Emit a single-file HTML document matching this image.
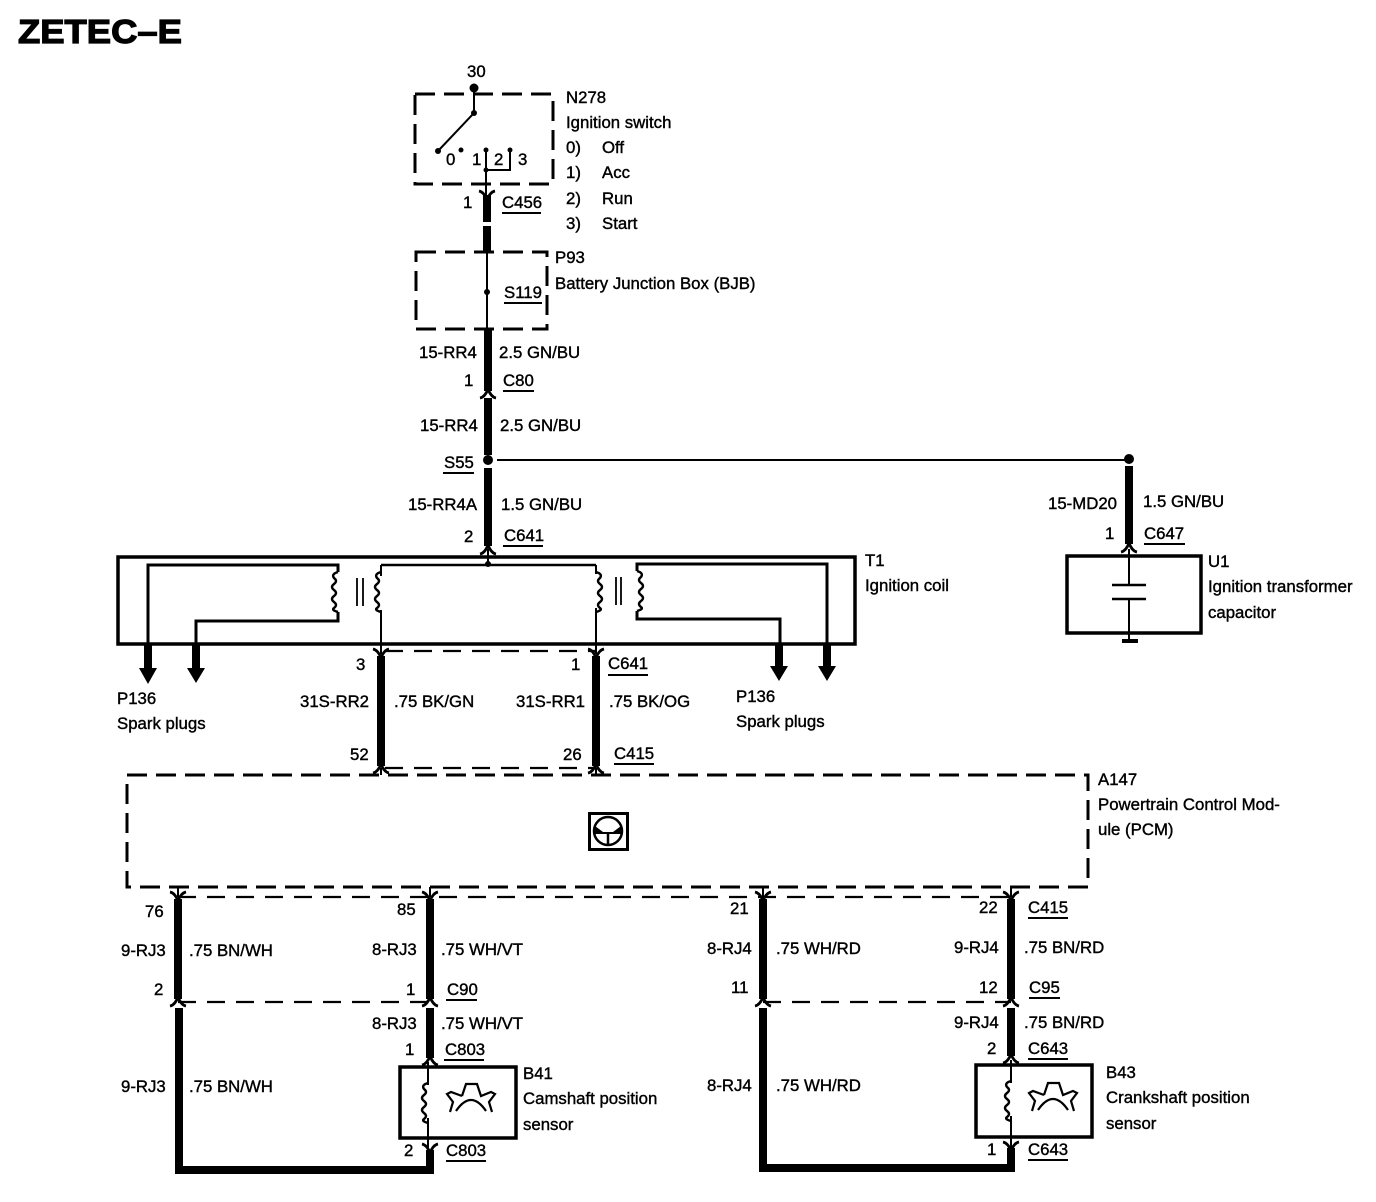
<!DOCTYPE html>
<html><head><meta charset="utf-8"><style>
html,body{margin:0;padding:0;background:#fff}
svg{display:block}
text{font-family:"Liberation Sans",sans-serif;font-size:16.8px;fill:#000;stroke:#000;stroke-width:.4}
.t{stroke:#000;fill:none;stroke-width:2}
.w{stroke:#000;fill:none;stroke-width:8}
.b{stroke:#000;fill:none;stroke-width:3.5}
.d{stroke:#000;fill:none;stroke-width:3;stroke-dasharray:20 9}
.e{stroke:#000;fill:none;stroke-width:2.2;stroke-dasharray:18 11}
</style></head><body>
<svg width="1376" height="1202" viewBox="0 0 1376 1202" xmlns="http://www.w3.org/2000/svg">
<defs>
<path id="y" d="M-8,-6 Q-3,-5 0,3 Q3,-5 8,-6" fill="none" stroke="#000" stroke-width="2.8"/>
<path id="a" d="M-8,5 Q-3,4 0,-4 Q3,4 8,5" fill="none" stroke="#000" stroke-width="2.8"/>
<path id="gear" d="M-9,-3 L-5,-15 H6 L10,-3 L20,-7 L24,-5 L18,3 L21,13 M-9,-3 L-20,-7 L-24,-5 L-18,3 L-21,13 M-15,12 Q0,-10 15,12" fill="none" stroke="#000" stroke-width="2.2"/>
<path id="cl" d="M0,0 q-7,2 -4,6 q4,3 0,6 q-4,3 0,6 q4,3 0,6 q-4,3 0,6 q4,3 0,6 q-3,2 4,4" fill="none" stroke="#000" stroke-width="2.4"/>
<path id="cr" d="M0,0 q7,2 4,6 q-4,3 0,6 q4,3 0,6 q-4,3 0,6 q4,3 0,6 q-4,3 0,6 q3,2 -4,4" fill="none" stroke="#000" stroke-width="2.4"/>
</defs>

<text x="18" y="43" style="font-size:33px;font-weight:bold;stroke-width:1.2" textLength="164" lengthAdjust="spacingAndGlyphs">ZETEC–E</text>

<!-- Ignition switch -->
<rect class="d" x="415" y="94" width="138" height="90"/>
<circle cx="474" cy="88" r="4.5"/>
<path class="t" d="M474,88V113L438,151"/>
<circle cx="474" cy="113" r="3"/><circle cx="438" cy="151" r="3"/><circle cx="461" cy="150" r="2.5"/>
<circle cx="486" cy="150" r="2.5"/><circle cx="510" cy="150" r="2.5"/><circle cx="486" cy="170" r="2.5"/>
<path class="t" d="M486,150V195M486,170H510V150"/>
<text x="446" y="165">0</text><text x="472" y="165">1</text><text x="494" y="165">2</text><text x="518" y="165">3</text>
<text x="467" y="77">30</text>
<text x="566" y="103">N278</text><text x="566" y="128">Ignition switch</text>
<text x="566" y="153">0)</text><text x="602" y="153">Off</text>
<text x="566" y="178">1)</text><text x="602" y="178">Acc</text>
<text x="566" y="204">2)</text><text x="602" y="204">Run</text>
<text x="566" y="229">3)</text><text x="602" y="229">Start</text>
<use href="#y" x="487" y="197"/>
<path class="w" d="M487,195V222M487,226V252"/>
<text x="463" y="208">1</text>
<text x="502" y="208">C456</text><path class="t" d="M502,213H541"/>

<!-- BJB -->
<rect class="d" x="416" y="252" width="131" height="77"/>
<path class="t" d="M487,252V329"/><circle cx="487" cy="292" r="3"/>
<text x="504" y="298">S119</text><path class="t" d="M504,303H542"/>
<text x="555" y="263">P93</text><text x="555" y="289">Battery Junction Box (BJB)</text>

<!-- main feed -->
<path class="w" d="M488,329V391M488,398V455M488,468V546"/>
<use href="#a" x="488" y="393"/>
<text x="419" y="358">15-RR4</text><text x="499" y="358">2.5 GN/BU</text>
<text x="464" y="386">1</text><text x="503" y="386">C80</text><path class="t" d="M503,391H534"/>
<text x="420" y="431">15-RR4</text><text x="500" y="431">2.5 GN/BU</text>
<text x="444" y="468">S55</text><path class="t" d="M443,473H474"/>
<circle cx="488" cy="460" r="5"/>
<path class="t" d="M497,460H1129"/>
<text x="408" y="510">15-RR4A</text><text x="501" y="510">1.5 GN/BU</text>
<text x="464" y="542">2</text><text x="504" y="541">C641</text><path class="t" d="M503,546H543"/>
<use href="#a" x="488" y="549"/>

<!-- capacitor branch -->
<circle cx="1129" cy="459" r="5"/>
<path class="w" d="M1129,466V544"/>
<use href="#a" x="1129" y="547"/>
<text x="1048" y="509">15-MD20</text><text x="1143" y="507">1.5 GN/BU</text>
<text x="1105" y="539">1</text><text x="1144" y="539">C647</text><path class="t" d="M1144,544H1185"/>
<rect class="b" x="1067" y="556" width="134" height="77"/>
<path class="t" d="M1129,549V585M1129,599V640"/>
<path stroke="#000" stroke-width="2.5" d="M1112,585H1146M1112,599H1146"/>
<path stroke="#000" stroke-width="4" d="M1122,641H1138"/>
<text x="1208" y="567">U1</text><text x="1208" y="592">Ignition transformer</text><text x="1208" y="618">capacitor</text>

<!-- Ignition coil -->
<rect class="b" x="118" y="557" width="737" height="87"/>
<path class="t" d="M488,549V565"/><circle cx="488" cy="564" r="3"/>
<path stroke="#000" stroke-width="2.5" fill="none" d="M381,565H596"/>
<path stroke="#000" stroke-width="3" fill="none" d="M148,645V565H338V572M338,612V621H196V645"/>
<use href="#cl" x="338" y="572"/>
<path stroke="#000" stroke-width="1.8" d="M357,578V606M363,578V606M616,577V605M621,577V605"/>
<path class="t" d="M381,565V576M381,610V654"/>
<use href="#cl" x="381" y="572"/>
<path class="t" d="M596,565V574M596,608V654"/>
<use href="#cr" x="596" y="572"/>
<path stroke="#000" stroke-width="3" fill="none" d="M637,571V564H827V645M637,611V619H780V645"/>
<use href="#cr" x="637" y="571"/>
<path class="w" d="M148,645V670M196,645V670M779,645V668M827,645V668"/>
<path d="M139,668H157L148,684ZM187,668H205L196,683ZM770,666H788L779,681ZM818,666H836L827,681Z"/>
<text x="865" y="566">T1</text><text x="865" y="591">Ignition coil</text>
<text x="117" y="704">P136</text><text x="117" y="729">Spark plugs</text>
<text x="736" y="702">P136</text><text x="736" y="727">Spark plugs</text>

<!-- coil outputs -->
<path class="e" d="M385,651H596M385,768H596"/>
<path class="w" d="M381,656V766M596,656V766"/>
<use href="#y" x="381" y="655"/><use href="#y" x="596" y="655"/>
<use href="#a" x="381" y="768"/><use href="#a" x="596" y="768"/>
<path class="t" d="M381,768V775M596,768V775"/>
<text x="356" y="670">3</text><text x="571" y="670">1</text>
<text x="608" y="669">C641</text><path class="t" d="M608,675H648"/>
<text x="300" y="707">31S-RR2</text><text x="394" y="707">.75 BK/GN</text>
<text x="516" y="707">31S-RR1</text><text x="609" y="707">.75 BK/OG</text>
<text x="350" y="760">52</text><text x="563" y="760">26</text>
<text x="614" y="759">C415</text><path class="t" d="M614,764H654"/>

<!-- PCM -->
<rect class="d" x="127" y="775" width="961" height="112"/>
<text x="1098" y="785">A147</text><text x="1098" y="810">Powertrain Control Mod-</text><text x="1098" y="835">ule (PCM)</text>
<rect x="589.500" y="813.500" width="38" height="36" fill="none" stroke="#000" stroke-width="3"/>
<circle cx="608" cy="831" r="14" fill="none" stroke="#000" stroke-width="2.5"/>
<path d="M595,826L603,832H613L621,826L621,834H595Z"/>
<path stroke="#000" stroke-width="2.5" fill="none" d="M608,833V845"/>

<!-- lower -->
<path class="e" d="M178,897H1011"/>
<path class="e" d="M178,1002H430M763,1002H1011"/>
<path class="t" d="M178,887V897M430,887V897M763,887V897M1011,887V897"/>
<path class="w" d="M178,899V999M430,899V999M763,899V999M1011,899V999"/>
<use href="#y" x="178" y="898"/><use href="#y" x="430" y="898"/><use href="#y" x="763" y="898"/><use href="#y" x="1011" y="898"/>
<use href="#a" x="178" y="1001"/><use href="#a" x="430" y="1001"/><use href="#a" x="763" y="1001"/><use href="#a" x="1011" y="1001"/>

<text x="145" y="917">76</text><text x="397" y="915">85</text><text x="730" y="914">21</text><text x="979" y="913">22</text>
<text x="1028" y="913">C415</text><path class="t" d="M1028,918H1068"/>
<text x="121" y="956">9-RJ3</text><text x="189" y="956">.75 BN/WH</text>
<text x="372" y="955">8-RJ3</text><text x="441" y="955">.75 WH/VT</text>
<text x="707" y="954">8-RJ4</text><text x="776" y="954">.75 WH/RD</text>
<text x="954" y="953">9-RJ4</text><text x="1024" y="953">.75 BN/RD</text>
<text x="154" y="995">2</text><text x="406" y="995">1</text><text x="731" y="993">11</text><text x="979" y="993">12</text>
<text x="447" y="995">C90</text><path class="t" d="M446,1000H477"/>
<text x="1029" y="993">C95</text><path class="t" d="M1029,998H1060"/>

<path class="w" d="M179,1008V1170H430V1150"/>
<path class="w" d="M430,1008V1058M1011,1008V1056"/>
<path class="w" d="M763,1008V1168H1011V1148"/>
<use href="#a" x="430" y="1060"/><use href="#a" x="1011" y="1058"/>
<use href="#y" x="430" y="1150"/><use href="#y" x="1011" y="1148"/>

<text x="121" y="1092">9-RJ3</text><text x="189" y="1092">.75 BN/WH</text>
<text x="707" y="1091">8-RJ4</text><text x="776" y="1091">.75 WH/RD</text>
<text x="372" y="1029">8-RJ3</text><text x="441" y="1029">.75 WH/VT</text>
<text x="954" y="1028">9-RJ4</text><text x="1024" y="1028">.75 BN/RD</text>
<text x="405" y="1055">1</text><text x="445" y="1055">C803</text><path class="t" d="M444,1060H484"/>
<text x="987" y="1054">2</text><text x="1028" y="1054">C643</text><path class="t" d="M1028,1059H1068"/>

<rect class="b" x="400" y="1067" width="116" height="71"/>
<path class="t" d="M428,1062V1085M428,1118V1152"/>
<use href="#cl" x="428" y="1083"/>
<use href="#gear" x="471" y="1099"/>
<text x="523" y="1079">B41</text><text x="523" y="1104">Camshaft position</text><text x="523" y="1130">sensor</text>
<text x="404" y="1156">2</text><text x="446" y="1156">C803</text><path class="t" d="M446,1161H486"/>

<rect class="b" x="976" y="1065" width="116" height="72"/>
<path class="t" d="M1011,1060V1083M1011,1116V1150"/>
<use href="#cl" x="1011" y="1081"/>
<use href="#gear" x="1053" y="1098"/>
<text x="1106" y="1078">B43</text><text x="1106" y="1103">Crankshaft position</text><text x="1106" y="1129">sensor</text>
<text x="987" y="1155">1</text><text x="1028" y="1155">C643</text><path class="t" d="M1028,1160H1068"/>
</svg>
</body></html>
